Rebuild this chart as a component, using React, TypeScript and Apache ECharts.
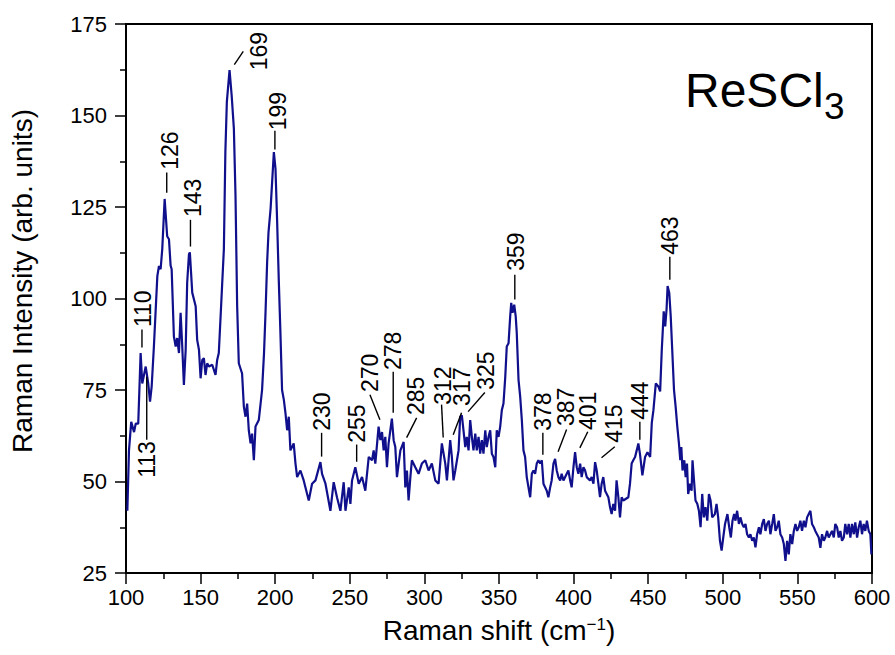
import React, { useEffect, useRef } from "react";
import * as echarts from "echarts";

// Raman shift (cm^-1)
const shift = [
  100.9, 102.0, 103.5, 105.4, 106.5, 108.2, 109.8, 110.9, 113.2, 114.9, 116.1, 117.2, 118.7, 121.0, 122.1, 123.2, 124.3, 125.9,
  127.6, 128.8, 129.9, 130.6, 132.1, 133.3, 134.3, 135.5, 136.6, 137.7, 138.8, 140.0, 141.0, 142.2, 142.8, 144.4, 146.7, 147.7,
  148.9, 150.0, 151.1, 152.2, 153.3, 154.4, 155.6, 157.8, 160.0, 161.1, 162.2, 163.4, 164.5, 165.6, 166.6, 167.6, 169.4, 170.8,
  172.3, 173.4, 174.5, 175.6, 177.8, 179.0, 180.1, 181.2, 182.3, 183.5, 184.5, 185.7, 186.8, 189.0, 191.2, 192.5, 193.5, 194.6,
  195.5, 196.9, 199.1, 200.2, 201.3, 202.4, 203.5, 204.6, 205.8, 206.9, 208.0, 209.1, 210.2, 212.4, 213.6, 214.7, 216.9, 219.1,
  222.5, 224.7, 227.0, 230.3, 231.4, 233.7, 237.0, 239.2, 241.4, 243.7, 245.9, 247.1, 249.3, 250.4, 251.5, 253.7, 256.0, 258.2,
  260.4, 262.7, 264.9, 266.0, 267.1, 269.3, 270.5, 271.6, 272.7, 273.8, 274.9, 276.0, 278.2, 279.4, 280.5, 281.6, 283.9, 286.1,
  287.2, 288.3, 289.4, 290.6, 291.6, 293.9, 296.1, 298.3, 300.6, 302.8, 305.0, 307.3, 309.5, 311.7, 314.0, 315.1, 317.3, 318.4,
  319.5, 320.7, 322.9, 324.0, 325.1, 326.2, 327.4, 328.4, 329.6, 330.7, 331.8, 332.9, 334.1, 335.1, 336.3, 337.4, 338.5, 339.6,
  340.8, 341.8, 343.0, 344.1, 345.2, 346.3, 347.5, 348.5, 349.7, 350.8, 351.9, 353.0, 354.2, 355.2, 356.4, 357.5, 358.2, 359.1,
  360.2, 361.2, 361.9, 363.1, 364.2, 365.3, 366.4, 367.5, 368.6, 370.9, 372.0, 373.1, 374.2, 375.3, 376.4, 377.6, 378.7, 379.8,
  380.9, 382.0, 383.1, 384.3, 385.3, 386.5, 387.6, 388.7, 389.8, 391.0, 392.0, 393.2, 395.4, 396.5, 397.7, 398.7, 399.9, 401.0,
  402.1, 403.2, 404.4, 405.4, 406.6, 407.7, 408.8, 411.0, 412.1, 413.3, 414.4, 415.5, 416.6, 417.7, 418.8, 419.9, 421.1, 423.3,
  424.4, 425.5, 426.6, 427.8, 428.8, 430.0, 431.1, 432.2, 433.3, 436.7, 437.8, 438.9, 440.0, 441.2, 442.3, 443.4, 444.5, 446.1,
  447.9, 449.5, 451.3, 452.4, 453.5, 455.1, 456.9, 458.0, 459.1, 459.8, 460.4, 461.4, 462.3, 463.0, 464.1, 465.1, 466.1, 467.3,
  468.4, 469.5, 470.6, 471.5, 472.2, 473.0, 474.2, 475.1, 476.0, 476.8, 478.0, 479.1, 479.7, 480.7, 481.7, 482.9, 484.0, 485.1,
  486.2, 487.3, 488.4, 489.6, 490.7, 491.8, 492.9, 494.7, 495.8, 496.9, 498.1, 499.2, 500.3, 501.5, 503.1, 504.3, 505.4, 506.5,
  507.6, 508.5, 509.6, 510.8, 511.8, 513.0, 514.1, 515.2, 516.3, 517.5, 518.5, 519.7, 520.8, 521.9, 523.0, 524.2, 525.2, 526.4,
  527.5, 528.6, 529.7, 530.9, 531.9, 533.1, 534.2, 535.3, 536.4, 537.5, 538.6, 539.8, 540.9, 542.0, 543.1, 544.2, 545.3, 546.5,
  547.6, 548.7, 549.8, 550.9, 552.0, 553.1, 554.3, 555.4, 556.5, 557.6, 558.7, 559.8, 561.0, 562.0, 564.3, 565.4, 566.5, 567.7,
  568.7, 569.9, 571.0, 572.1, 573.2, 574.4, 575.4, 576.6, 577.7, 578.8, 579.9, 581.1, 582.1, 583.3, 584.4, 585.5, 586.6, 587.8,
  588.8, 590.0, 591.1, 592.2, 593.3, 594.4, 595.5, 596.6, 597.8, 598.9, 599.6,
];

// Raman intensity (arb. units)
const intensity = [
  42, 58.5, 66.3, 63.5, 65.8, 65.8, 85.1, 76.8, 81.4, 76.8, 71.8, 75.9, 86.9, 106.1, 108.9, 108, 113.5, 127.2,
  117, 116.2, 109, 108, 89.6, 86.9, 89.2, 85.1, 96.1, 86.9, 76.4, 86, 104.3, 112.1, 112.6, 101.6, 97.9, 88.7,
  86, 78.2, 83.2, 83.7, 79.1, 82.3, 81.4, 81.9, 79.1, 83.2, 85.1, 95.1, 104.3, 113.5, 140, 153.8, 162.4, 155.6,
  146.4, 128, 98, 82.3, 79.5, 70.4, 67.7, 71.3, 64, 60.4, 63.1, 55.8, 65, 66.8, 75, 85, 96, 110,
  118, 124.5, 140, 135.4, 121, 105, 90.6, 75, 72.3, 68.6, 64, 67.7, 58.5, 60.4, 54.9, 51.2, 53, 50.3,
  44.8, 49.4, 50.3, 55.3, 52.1, 49.4, 42, 49.8, 45.7, 42, 49.8, 42, 48.4, 43.9, 50.3, 53.9, 49.4, 51.2,
  47.5, 56.7, 55.8, 58.5, 54.9, 65, 61.3, 63.5, 58.5, 62.2, 53.9, 60.4, 67.2, 61.3, 59.4, 51.2, 58.5, 60.8,
  48.4, 53, 44.8, 51.2, 55.8, 53.9, 52.1, 54.9, 55.8, 53, 54.9, 50.3, 49.4, 60.4, 54.9, 50.3, 61.3, 56.7,
  50.3, 53, 58.5, 67.7, 68.1, 64, 59.4, 62.2, 58.5, 66.8, 62.2, 58.5, 63.1, 58.5, 62.2, 57.6, 61.3, 57.6,
  64, 59.4, 62.2, 64, 57.6, 56.7, 53.9, 64, 62.2, 65, 69.5, 71.3, 78.6, 86.9, 87.8, 95.1, 98.8, 96.1,
  98.3, 95.1, 90.6, 77.7, 73.2, 66.8, 58.5, 56.7, 51.2, 45.7, 52.1, 53, 52.1, 54.9, 55.8, 54.9, 55.8, 49.4,
  48.4, 47.5, 45.7, 48.4, 50.3, 54.9, 56.2, 53, 51.2, 50.3, 52.1, 50.3, 52.1, 53, 50.3, 48.4, 53.9, 58,
  53.9, 52.1, 54.9, 51.2, 53.9, 53, 51.2, 50.3, 51.2, 49.4, 55.3, 53, 49.4, 45.7, 49.4, 51.2, 47.5, 45.7,
  43, 41.1, 43.9, 42, 50.3, 45.7, 40.2, 45.7, 44.8, 45.7, 49.4, 54.9, 55.8, 56.7, 58.5, 60.4, 57.5, 51.7,
  56.7, 58, 56.7, 66, 69.5, 76.8, 75.9, 74.6, 86, 91.5, 96.5, 92.4, 97, 103.4, 101.6, 95.1, 86, 75,
  70.4, 65, 60.4, 55.8, 59.4, 53, 55.8, 51.2, 54.9, 46.6, 49.4, 47.5, 55.8, 50.3, 44.8, 43.9, 42, 37.5,
  46.6, 40.2, 43, 39.3, 46.6, 44.8, 40.2, 41.1, 43.9, 40.2, 33.8, 31.1, 34.7, 38.4, 41.1, 37.5, 34.7, 39.3,
  41.1, 39.3, 42, 38.4, 40.2, 38.4, 37.5, 38.4, 35.6, 34.7, 35.6, 33.8, 34.7, 32, 35.6, 37.5, 35.6, 38.4,
  39.7, 36.5, 38.4, 39.3, 35.6, 38.4, 41.1, 36.5, 37.5, 39.3, 35.6, 34.7, 32.9, 28.3, 33.8, 30.1, 35.6, 32.9,
  36.5, 38.4, 36.5, 37.5, 39.3, 36.5, 39.3, 37.5, 40.2, 41.1, 42, 38.4, 37.5, 36.5, 34.7, 31.9, 35.6, 33.8,
  34.7, 36.5, 34.7, 35.6, 36.5, 34.7, 38.4, 37.5, 34.7, 36.5, 33.8, 34.7, 38.4, 35.6, 38.4, 34.7, 38.4, 35.6,
  38.8, 34.7, 37.5, 39.3, 35.6, 38.4, 36.5, 39.3, 36.5, 35.6, 30.1,
];

// Peak labels
const peakLabels = [
  "110", "113", "126", "143", "169", "199", "230", "255", "270", "278", "285",
  "312", "317", "325", "359", "378", "387", "401", "415", "444", "463",
];

// Leader line start/end and label centre, in data units (layout only)
const leaderFrom = [
  [110.7, 91.5], [113.9, 78.6], [127.3, 134.4], [143.2, 121.5], [172.6, 163.9], [199.8, 145.8], [231.1, 63.3],
  [254.6, 60.1], [263.5, 73.7], [279.1, 80.0], [294.8, 67.4], [311.5, 71.0], [324.9, 68.8], [340.5, 74.3],
  [360.6, 106.5], [379.4, 63.3], [395.3, 64.2], [409.5, 63.6], [427.6, 59.5], [444.4, 66.3], [464.5, 111.4],
];
const leaderTo = [
  [110.7, 86.6], [113.9, 61.4], [127.3, 128.9], [143.2, 114.2], [178.6, 167.5], [199.8, 140.7], [231.1, 56.8],
  [254.6, 55.4], [270.2, 66.9], [279.1, 68.8], [288.1, 62.0], [312.6, 62.0], [319.3, 62.8], [329.3, 69.1],
  [360.6, 99.7], [379.4, 57.3], [389.6, 58.1], [404.2, 59.2], [418.7, 56.5], [444.4, 61.4], [464.5, 105.1],
];
const labelAt = [
  [111.7, 97.2], [113.9, 56.0], [129.5, 140.4], [144.9, 127.5], [189.1, 167.6], [201.8, 151.2], [231.1, 69.1],
  [254.8, 65.8], [263.5, 79.7], [278.9, 85.7], [294.3, 73.4], [312.4, 76.2], [325.1, 75.9], [341.2, 80.3],
  [361.3, 112.8], [379.4, 69.1], [394.8, 70.4], [409.5, 69.3], [426.9, 65.8], [444.4, 72.1], [464.5, 117.2],
];

const xTicks = { min: 100, max: 600, interval: 50 };
const yTicks = { min: 25, max: 175, interval: 25 };

const FONT = '"Liberation Sans", Arial, Helvetica, sans-serif';

export default function App() {
  const ref = useRef<HTMLDivElement>(null);

  useEffect(() => {
    if (!ref.current) return;
    const chart = echarts.init(ref.current, null, { renderer: "svg" });

    const spectrum = shift.map((x, i) => [x, intensity[i]]);
    const annotations = peakLabels.map((_, i) => [
      leaderFrom[i][0], leaderFrom[i][1], leaderTo[i][0], leaderTo[i][1], labelAt[i][0], labelAt[i][1],
    ]);

    const axisCommon = {
      axisLine: { show: true, lineStyle: { color: "#000", width: 2 } },
      axisTick: { show: true, inside: false, length: 11, lineStyle: { color: "#000", width: 1.5 } },
      minorTick: { show: true, splitNumber: 2, length: 6, lineStyle: { color: "#000", width: 1.5 } },
      splitLine: { show: false },
      minorSplitLine: { show: false },
    };

    chart.setOption({
      animation: false,
      backgroundColor: "#fff",
      grid: {
        left: 126, right: 23, top: 24, bottom: 82,
        show: true, borderColor: "#000", borderWidth: 2, backgroundColor: "transparent",
      },
      xAxis: {
        type: "value",
        min: xTicks.min, max: xTicks.max, interval: xTicks.interval,
        ...axisCommon,
        axisLabel: { color: "#000", fontSize: 22, fontFamily: FONT, margin: 13 },
      },
      yAxis: {
        type: "value",
        min: yTicks.min, max: yTicks.max, interval: yTicks.interval,
        ...axisCommon,
        axisLabel: { color: "#000", fontSize: 22, fontFamily: FONT, margin: 19 },
      },
      graphic: [
        {
          type: "text",
          x: 22, y: 281,
          rotation: Math.PI / 2,
          style: {
            text: "Raman Intensity (arb. units)",
            fill: "#000", fontSize: 28, fontFamily: FONT,
            align: "center", verticalAlign: "middle",
          },
        },
        {
          type: "text",
          x: 499, y: 632,
          style: {
            text: "{a|Raman shift (cm}{s|\u22121}{a|)}",
            fill: "#000", fontFamily: FONT,
            align: "center", verticalAlign: "middle",
            rich: {
              a: { fontSize: 28, lineHeight: 32, verticalAlign: "top", fontFamily: FONT, fill: "#000" },
              s: { fontSize: 17, lineHeight: 18, verticalAlign: "top", fontFamily: FONT, fill: "#000" },
            },
          },
        },
        {
          type: "text",
          x: 685, y: 90,
          style: {
            text: "ReSCl",
            fill: "#000", fontSize: 48, fontFamily: FONT,
            align: "left", verticalAlign: "middle",
          },
        },
        {
          type: "text",
          x: 824, y: 106,
          style: {
            text: "3",
            fill: "#000", fontSize: 37, fontFamily: FONT,
            align: "left", verticalAlign: "middle",
          },
        },
      ],
      series: [
        {
          type: "line",
          data: spectrum,
          showSymbol: false,
          symbol: "none",
          lineStyle: { color: "#10108c", width: 2.2 },
          silent: true,
          z: 3,
        },
        {
          type: "custom",
          silent: true,
          z: 4,
          encode: { x: [0, 2, 4], y: [1, 3, 5] },
          data: annotations,
          renderItem: (params: any, api: any) => {
            const p1 = api.coord([api.value(0), api.value(1)]);
            const p2 = api.coord([api.value(2), api.value(3)]);
            const t = api.coord([api.value(4), api.value(5)]);
            return {
              type: "group",
              children: [
                {
                  type: "line",
                  shape: { x1: p1[0], y1: p1[1], x2: p2[0], y2: p2[1] },
                  style: { stroke: "#000", lineWidth: 1.4 },
                },
                {
                  type: "text",
                  x: t[0], y: t[1],
                  rotation: Math.PI / 2,
                  style: {
                    text: peakLabels[params.dataIndex],
                    fill: "#000", fontSize: 23, fontFamily: FONT,
                    align: "center", verticalAlign: "middle",
                  },
                },
              ],
            };
          },
        },
      ],
    });

    return () => chart.dispose();
  }, []);

  return (
    <div
      ref={ref}
      style={{ position: "fixed", left: 0, top: 0, width: 895, height: 655, background: "#fff" }}
    />
  );
}
